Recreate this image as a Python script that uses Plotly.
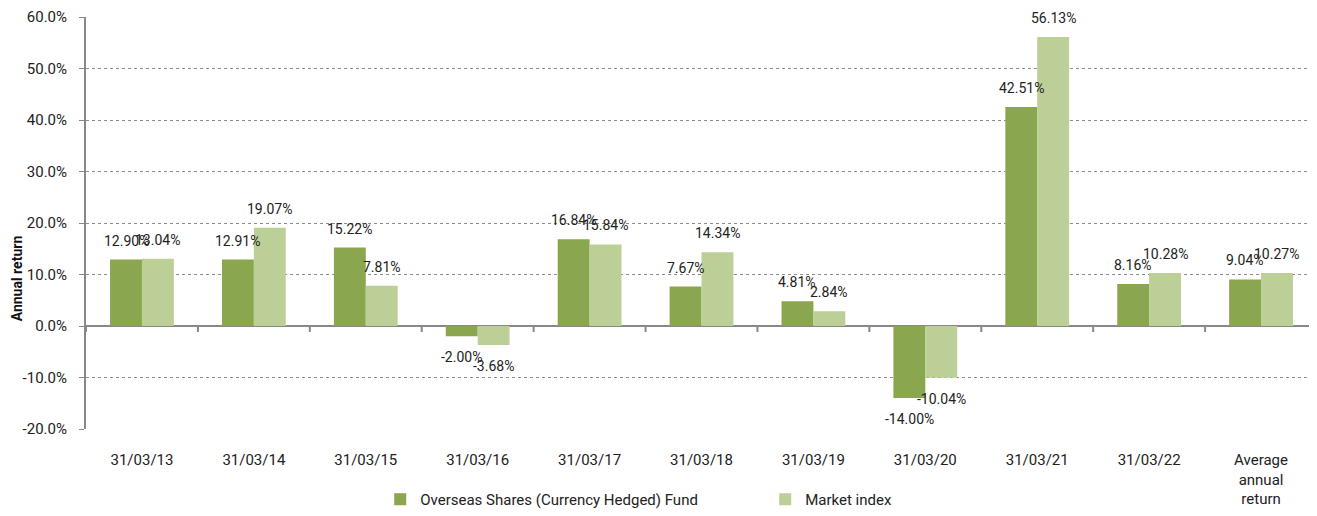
import plotly.graph_objects as go

categories = ["31/03/13", "31/03/14", "31/03/15", "31/03/16", "31/03/17", "31/03/18",
              "31/03/19", "31/03/20", "31/03/21", "31/03/22", "Average<br>annual<br>return"]
fund = [12.90, 12.91, 15.22, -2.00, 16.84, 7.67, 4.81, -14.00, 42.51, 8.16, 9.04]
market = [13.04, 19.07, 7.81, -3.68, 15.84, 14.34, 2.84, -10.04, 56.13, 10.28, 10.27]
series_names = ["Overseas Shares (Currency Hedged) Fund", "Market index"]
colors = ["#8AA64E", "#BBCF96"]
ytick_vals = [-20, -10, 0, 10, 20, 30, 40, 50, 60]
ytick_text = ["-20.0%", "-10.0%", "0.0%", "10.0%", "20.0%", "30.0%", "40.0%", "50.0%", "60.0%"]

FONT = "Roboto"
bargap = 0.43
xs = list(range(len(categories)))

fig = go.Figure()
for name, vals, col in zip(series_names, [fund, market], colors):
    fig.add_trace(go.Bar(x=xs, y=vals, name=name, marker=dict(color=col, line=dict(width=0))))

half = (1 - bargap) / 4
annotations = []
for k, vals in enumerate([fund, market]):
    off = -half if k == 0 else half
    for i, v in enumerate(vals):
        annotations.append(dict(
            x=i + off, y=v, xref="x", yref="y", text=f"{v:.2f}%", showarrow=False,
            yanchor="middle", xanchor="center", yshift=19 if v >= 0 else -21,
            font=dict(family=FONT, size=14, color="#222222")))

annotations.append(dict(
    x=-0.056, y=0.366, xref="paper", yref="paper", text="<b>Annual return</b>",
    textangle=-90, showarrow=False, xanchor="center", yanchor="middle",
    font=dict(family=FONT, size=14, color="#111111")))

shapes = []
for i in range(len(categories) + 1):
    shapes.append(dict(type="line", xref="x", yref="y", x0=i - 0.5, x1=i - 0.5,
                       ysizemode="pixel", yanchor=0, y0=0, y1=-6,
                       line=dict(color="#888888", width=2)))

# page body has an 8px default margin, so the figure is sized/offset to compensate
fig.update_layout(
    width=1309, height=508,
    margin=dict(l=78, r=0, t=9, b=87),
    paper_bgcolor="white", plot_bgcolor="white",
    barmode="group", bargap=bargap, bargroupgap=0,
    font=dict(family=FONT, color="#222222"),
    annotations=annotations, shapes=shapes,
    showlegend=True,
    legend=dict(orientation="h", x=0.239, xanchor="left", y=-0.172, yanchor="middle",
                entrywidth=340, entrywidthmode="pixels",
                font=dict(family=FONT, size=15, color="#222222"),
                itemclick=False, traceorder="normal"),
    xaxis=dict(tickmode="array", tickvals=xs, ticktext=categories,
               range=[-0.5, len(categories) - 0.5], automargin=False,
               showgrid=False, showline=False, zeroline=False,
               ticks="outside", ticklen=17, tickcolor="rgba(0,0,0,0)",
               tickfont=dict(family=FONT, size=15, color="#222222")),
    yaxis=dict(range=[-20, 60], tickmode="array", tickvals=ytick_vals, ticktext=ytick_text,
               automargin=False,
               showgrid=True, gridcolor="#8c8c8c", griddash="dot", gridwidth=1,
               zeroline=True, zerolinecolor="#888888", zerolinewidth=2,
               showline=True, linecolor="#888888", linewidth=2,
               ticks="outside", ticklen=5, tickcolor="#888888", ticklabelstandoff=9,
               tickfont=dict(family=FONT, size=15, color="#222222")),
)

fig.write_html("out.html")
